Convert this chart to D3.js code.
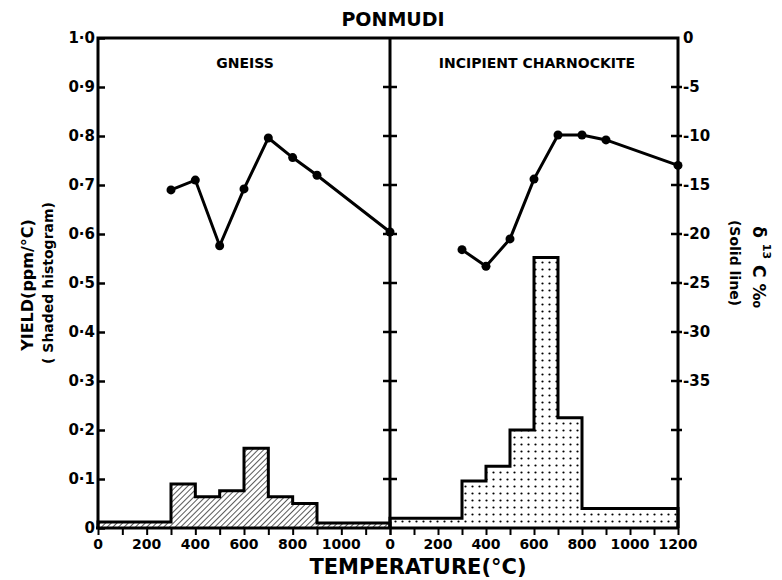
<!DOCTYPE html>
<html>
<head>
<meta charset="utf-8">
<script src="https://cdn.jsdelivr.net/npm/d3@7"></script>
<style>
  body { margin: 0; background: #fff; }
  svg text { font-family: "DejaVu Sans", sans-serif; fill: #000; }
</style>
</head>
<body>
<div id="chart"></div>
<script>
// histogram bins (temperature edges, °C) and yields (ppm/°C)
var gneissEdges = [0, 300, 400, 500, 600, 700, 800, 900, 1200];
var gneissYield = [0.012, 0.09, 0.064, 0.076, 0.163, 0.064, 0.05, 0.01];
var charnEdges = [0, 300, 400, 500, 600, 700, 800, 1200];
var charnYield = [0.02, 0.096, 0.126, 0.2, 0.552, 0.225, 0.04];

// delta 13C (per mil) solid lines
var stepTemps = [300, 400, 500, 600, 700, 800, 900, 1200];
var gneissD13C = [-15.5, -14.5, -21.2, -15.4, -10.2, -12.2, -14.0, -19.8];
var charnD13C = [-21.6, -23.3, -20.5, -14.4, -9.9, -9.9, -10.4, -13.0];

var yieldTicks = [0, 0.1, 0.2, 0.3, 0.4, 0.5, 0.6, 0.7, 0.8, 0.9, 1.0];
var yieldLabels = ["0", "0·1", "0·2", "0·3", "0·4", "0·5", "0·6", "0·7", "0·8", "0·9", "1·0"];
var deltaTicks = [0, -5, -10, -15, -20, -25, -30, -35];
var deltaLabels = ["0", "-5", "-10", "-15", "-20", "-25", "-30", "-35"];
var tempTicks = d3.range(0, 1201, 100);
var leftTempLabels = [0, 200, 400, 600, 800, 1000];
var rightTempLabels = [0, 200, 400, 600, 800, 1000, 1200];

var W = 782, H = 580;
var padL = 98, padMid = 390, padR = 678, padTop = 38, base = 528;

var svg = d3.select("#chart").append("svg")
    .attr("width", W).attr("height", H);

var defs = svg.append("defs");
// hatch for gneiss
var hatch = defs.append("pattern").attr("id", "hatch")
    .attr("patternUnits", "userSpaceOnUse").attr("width", 4).attr("height", 4)
    .attr("patternTransform", "rotate(45)");
hatch.append("line").attr("x1", 0).attr("y1", 0).attr("x2", 0).attr("y2", 4)
    .attr("stroke", "#000").attr("stroke-width", 1.3);
// dots for charnockite
var dots = defs.append("pattern").attr("id", "dots")
    .attr("patternUnits", "userSpaceOnUse").attr("width", 7).attr("height", 7);
dots.append("circle").attr("cx", 3.5).attr("cy", 3.5).attr("r", 1.1).attr("fill", "#000");

var xL = d3.scaleLinear().domain([0, 1200]).range([padL, padMid]);
var xR = d3.scaleLinear().domain([0, 1200]).range([padMid, padR]);
var y = d3.scaleLinear().domain([0, 1]).range([base, padTop]);
var yD = d3.scaleLinear().domain([-50, 0]).range([base, padTop]);

// histograms
function drawHist(edges, vals, x, fill) {
  var pts = vals.map(function(v, i) { return [edges[i], v]; });
  pts.push([edges[edges.length - 1], vals[vals.length - 1]]);
  var area = d3.area().curve(d3.curveStepAfter)
      .x(function(d) { return x(d[0]); })
      .y0(y(0)).y1(function(d) { return y(d[1]); });
  svg.append("path").attr("d", area(pts)).attr("fill", "url(#" + fill + ")");
  var outline = [[edges[0], 0]].concat(pts).concat([[edges[edges.length - 1], 0]]);
  var line = d3.line().curve(d3.curveStepAfter)
      .x(function(d) { return x(d[0]); })
      .y(function(d) { return y(d[1]); });
  svg.append("path").attr("d", line(outline))
      .attr("fill", "none").attr("stroke", "#000").attr("stroke-width", 3)
      .attr("stroke-linejoin", "miter");
}
drawHist(gneissEdges, gneissYield, xL, "hatch");
drawHist(charnEdges, charnYield, xR, "dots");

// frame
svg.append("path")
    .attr("d", "M" + padL + "," + base + "V" + padTop + "H" + padR + "V" + base)
    .attr("fill", "none").attr("stroke", "#000").attr("stroke-width", 3);
svg.append("line").attr("x1", padMid).attr("x2", padMid).attr("y1", padTop).attr("y2", base)
    .attr("stroke", "#000").attr("stroke-width", 3);
svg.append("line").attr("x1", padL - 2).attr("x2", padR).attr("y1", base).attr("y2", base)
    .attr("stroke", "#000").attr("stroke-width", 3);

// left axis
var gl = svg.append("g").attr("transform", "translate(" + padL + ",0)")
    .call(d3.axisRight(y).tickValues(yieldTicks).tickSize(7).tickFormat(""));
gl.select(".domain").remove();
gl.selectAll("line").attr("stroke-width", 2.5);
svg.append("g").selectAll("text").data(yieldTicks).join("text")
    .attr("x", padL - 3).attr("y", function(d) { return y(d); })
    .attr("dy", "0.36em").attr("text-anchor", "end")
    .attr("font-size", 15).attr("font-weight", "bold")
    .text(function(d, i) { return yieldLabels[i]; });

// divider ticks (both sides)
svg.append("g").selectAll("line").data(yieldTicks.slice(1, -1)).join("line")
    .attr("x1", padMid - 7).attr("x2", padMid + 7)
    .attr("y1", function(d) { return y(d); }).attr("y2", function(d) { return y(d); })
    .attr("stroke", "#000").attr("stroke-width", 2.5);

// right axis
svg.append("g").selectAll("line").data(d3.range(-45, 0, 5)).join("line")
    .attr("x1", padR - 7).attr("x2", padR + 4)
    .attr("y1", function(d) { return yD(d); }).attr("y2", function(d) { return yD(d); })
    .attr("stroke", "#000").attr("stroke-width", 2.5);
svg.append("g").selectAll("text").data(deltaTicks).join("text")
    .attr("x", padR + 5).attr("y", function(d) { return yD(d); })
    .attr("dy", "0.36em").attr("text-anchor", "start")
    .attr("font-size", 15).attr("font-weight", "bold")
    .text(function(d, i) { return deltaLabels[i]; });

// bottom axes
function bottomAxis(x, labels) {
  var g = svg.append("g").attr("transform", "translate(0," + base + ")")
      .call(d3.axisBottom(x).tickValues(tempTicks).tickSize(7).tickFormat(""));
  g.select(".domain").remove();
  g.selectAll("line").attr("stroke-width", 2);
  svg.append("g").selectAll("text").data(labels).join("text")
      .attr("x", function(d) { return x(d); }).attr("y", base + 21)
      .attr("text-anchor", "middle").attr("font-size", 14).attr("font-weight", "bold")
      .text(function(d) { return d; });
}
bottomAxis(xL, leftTempLabels);
bottomAxis(xR, rightTempLabels);

// delta 13C lines
function drawLine(vals, x) {
  var pts = stepTemps.map(function(t, i) { return [t, vals[i]]; });
  svg.append("path")
      .attr("d", d3.line().x(function(d) { return x(d[0]); }).y(function(d) { return yD(d[1]); })(pts))
      .attr("fill", "none").attr("stroke", "#000").attr("stroke-width", 3);
  svg.append("g").selectAll("circle").data(pts).join("circle")
      .attr("cx", function(d) { return x(d[0]); }).attr("cy", function(d) { return yD(d[1]); })
      .attr("r", 4.5).attr("fill", "#000");
}
drawLine(gneissD13C, xL);
drawLine(charnD13C, xR);

// titles
svg.append("text").attr("x", 393).attr("y", 26).attr("text-anchor", "middle")
    .attr("font-size", 19).attr("font-weight", "bold").text("PONMUDI");
svg.append("text").attr("x", 245).attr("y", 68).attr("text-anchor", "middle")
    .attr("font-size", 14).attr("font-weight", "bold").text("GNEISS");
svg.append("text").attr("x", 537).attr("y", 68).attr("text-anchor", "middle")
    .attr("font-size", 14).attr("font-weight", "bold").text("INCIPIENT CHARNOCKITE");
svg.append("text").attr("x", 418).attr("y", 574).attr("text-anchor", "middle")
    .attr("font-size", 21).attr("font-weight", "bold").text("TEMPERATURE(°C)");

// left axis label
svg.append("text").attr("transform", "translate(33,285) rotate(-90)")
    .attr("text-anchor", "middle").attr("font-size", 16).attr("font-weight", "bold")
    .text("YIELD(ppm/°C)");
svg.append("text").attr("transform", "translate(53,283) rotate(-90)")
    .attr("text-anchor", "middle").attr("font-size", 14).attr("font-weight", "bold")
    .text("( Shaded histogram)");

// right axis label
svg.append("text").attr("transform", "translate(730,263) rotate(90)")
    .attr("text-anchor", "middle").attr("font-size", 14).attr("font-weight", "bold")
    .text("(Solid line)");
var dl = svg.append("text").attr("transform", "translate(753,267) rotate(90)")
    .attr("text-anchor", "middle").attr("font-size", 17).attr("font-weight", "bold");
dl.append("tspan").text("δ ");
dl.append("tspan").attr("font-size", 11).attr("dy", -10).text("13");
dl.append("tspan").attr("dy", 10).text(" C ‰");
</script>
</body>
</html>
